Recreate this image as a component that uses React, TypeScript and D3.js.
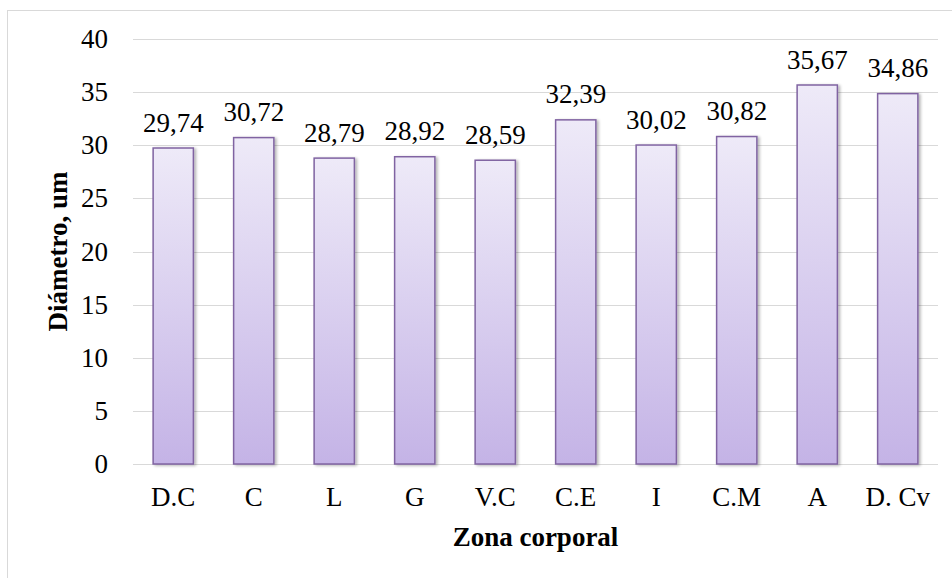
import React from "react";
import * as d3 from "d3";

const categories = ["D.C", "C", "L", "G", "V.C", "C.E", "I", "C.M", "A", "D. Cv"];
const values = [29.74, 30.72, 28.79, 28.92, 28.59, 32.39, 30.02, 30.82, 35.67, 34.86];
const yTicks = [0, 5, 10, 15, 20, 25, 30, 35, 40];
const xTitle = "Zona corporal";
const yTitle = "Diámetro, um";

const W = 952;
const H = 578;
const left = 133;
const right = 938;
const top = 39;
const bottom = 464;
const FONT = "'Liberation Serif', 'Times New Roman', serif";

export default function App() {
  const x = d3.scaleBand<string>().domain(categories).range([left, right]).paddingInner(0.5).paddingOuter(0.25);
  const y = d3.scaleLinear().domain([0, 40]).range([bottom, top]);
  const fmt = (v: number) => v.toFixed(2).replace(".", ",");

  return (
    <svg width={W} height={H} style={{ position: "absolute", left: 0, top: 0, background: "#fff" }} fontFamily={FONT}>
      <defs>
        <linearGradient id="barGrad" x1="0" y1="0" x2="0" y2="1">
          <stop offset="0%" stopColor="#EEEAF8" />
          <stop offset="100%" stopColor="#C4B3E6" />
        </linearGradient>
        <filter id="shadow" x="-20%" y="-5%" width="150%" height="115%">
          <feGaussianBlur in="SourceAlpha" stdDeviation="1.5" />
          <feOffset dx="2" dy="1" result="ob" />
          <feComponentTransfer>
            <feFuncA type="linear" slope="0.3" />
          </feComponentTransfer>
          <feMerge>
            <feMergeNode />
            <feMergeNode in="SourceGraphic" />
          </feMerge>
        </filter>
      </defs>
      <rect x={7.5} y={10.5} width={W + 10} height={H + 10} fill="#fff" stroke="#d9d9d9" strokeWidth={1} />
      {yTicks.map((t) => (
        <g key={t}>
          <line x1={left} x2={right} y1={Math.round(y(t)) + 0.5} y2={Math.round(y(t)) + 0.5} stroke="#d9d9d9" strokeWidth={1} />
          <text x={108} y={y(t) + 9} textAnchor="end" fontSize={27} fill="#000">
            {t}
          </text>
        </g>
      ))}
      {categories.map((c, i) => {
        const x0 = x(c)!;
        const bw = x.bandwidth();
        const yt = y(values[i]);
        return (
          <g key={c}>
            <rect
              x={x0}
              y={yt}
              width={bw}
              height={bottom - yt}
              fill="url(#barGrad)"
              stroke="#8064A2"
              strokeWidth={1.5}
              filter="url(#shadow)"
            />
            <text x={x0 + bw / 2} y={yt - 16.5} textAnchor="middle" fontSize={27} fill="#000">
              {fmt(values[i])}
            </text>
            <text x={x0 + bw / 2} y={506} textAnchor="middle" fontSize={27} fill="#000">
              {c}
            </text>
          </g>
        );
      })}
      <text x={(left + right) / 2} y={546} textAnchor="middle" fontSize={27} fontWeight="bold" fill="#000">
        {xTitle}
      </text>
      <text
        transform={`translate(67, ${(top + bottom) / 2}) rotate(-90)`}
        textAnchor="middle"
        fontSize={27}
        fontWeight="bold"
        fill="#000"
      >
        {yTitle}
      </text>
    </svg>
  );
}
